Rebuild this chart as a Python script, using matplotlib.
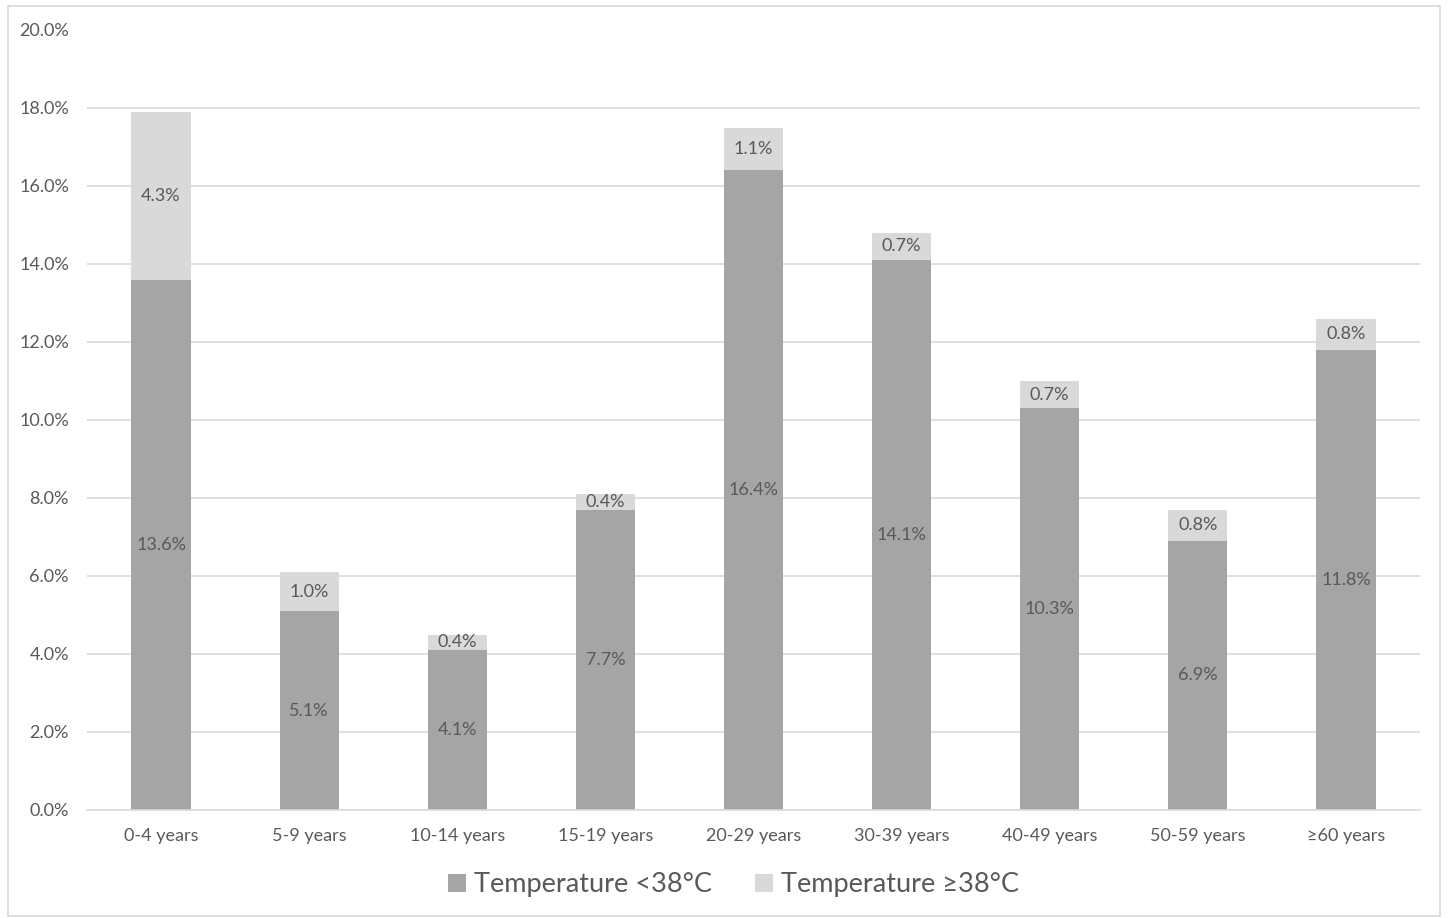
import matplotlib.pyplot as plt
from matplotlib.patches import Rectangle

plt.rcParams['font.family'] = ['Lato', 'DejaVu Sans']

categories = ['0-4 years', '5-9 years', '10-14 years', '15-19 years', '20-29 years',
              '30-39 years', '40-49 years', '50-59 years', '\u226560 years']
below_38 = [13.6, 5.1, 4.1, 7.7, 16.4, 14.1, 10.3, 6.9, 11.8]
above_38 = [4.3, 1.0, 0.4, 0.4, 1.1, 0.7, 0.7, 0.8, 0.8]

dark = '#a5a5a5'
light = '#d9d9d9'
txt = '#595959'

fig = plt.figure(figsize=(14.48, 9.18), dpi=100)
ax = fig.add_axes([87 / 1448, (918 - 810) / 918, 1333 / 1448, 780 / 918])

x = list(range(len(categories)))
ax.bar(x, below_38, width=0.4, color=dark, label='Temperature <38\u00b0C', zorder=2)
ax.bar(x, above_38, width=0.4, bottom=below_38, color=light,
       label='Temperature \u226538\u00b0C', zorder=2)

for i in x:
    ax.text(i, below_38[i] / 2, f'{below_38[i]:.1f}%', ha='center', va='center',
            fontsize=13, color=txt, zorder=3)
    ax.text(i, below_38[i] + above_38[i] / 2, f'{above_38[i]:.1f}%', ha='center',
            va='center', fontsize=13, color=txt, zorder=3)

ax.set_xlim(-0.5, len(categories) - 0.5)
ax.set_ylim(0, 20)
ax.set_yticks([v * 2 for v in range(11)])
ax.set_yticklabels([f'{v * 2:.1f}%' for v in range(11)])
ax.set_xticks(x)
ax.set_xticklabels(categories)
ax.tick_params(axis='both', length=0, labelsize=13, labelcolor=txt)
ax.tick_params(axis='y', pad=13)
ax.tick_params(axis='x', pad=13)

for v in range(1, 10):
    ax.axhline(v * 2, color='#d9d9d9', linewidth=1.2, zorder=1)

for s in ['top', 'right', 'left']:
    ax.spines[s].set_visible(False)
ax.spines['bottom'].set_color('#d9d9d9')
ax.spines['bottom'].set_linewidth(1.2)

ax.legend(loc='center', bbox_to_anchor=(0.485, -0.096), ncol=2, frameon=False,
          fontsize=19.5, labelcolor=txt, handlelength=0.65, handleheight=0.65,
          handletextpad=0.3, columnspacing=1.6)

fig.patches.append(Rectangle((8 / 1448, 2 / 918), 1432 / 1448, 910 / 918,
                             transform=fig.transFigure, fill=False,
                             edgecolor='#d9d9d9', linewidth=1.2))

fig.savefig('out.png', dpi=100)
